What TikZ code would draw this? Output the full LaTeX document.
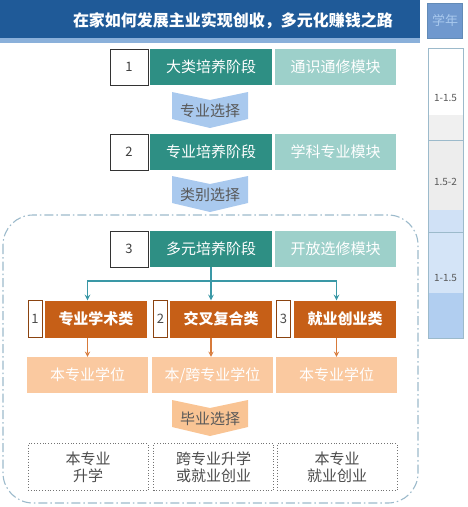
\documentclass[tikz,border=0pt]{standalone}
\usepackage{fontspec}
\setmainfont{Noto Sans CJK SC}
\definecolor{hdblue}{HTML}{1F5A98}
\definecolor{hdstrip}{HTML}{8AB0DA}
\definecolor{yrblue}{HTML}{6F98CE}
\definecolor{stageteal}{HTML}{2E8F84}
\definecolor{modteal}{HTML}{9DD0CA}
\definecolor{pickblue}{HTML}{A9C9EE}
\definecolor{linkteal}{HTML}{3A98A6}
\definecolor{trackorange}{HTML}{C65F17}
\definecolor{linkorange}{HTML}{D77A3A}
\definecolor{degorange}{HTML}{FAC9A0}
\definecolor{pickorange}{HTML}{F9C494}
\definecolor{framegray}{HTML}{9CBACB}
\newcommand{\pickarrow}[5]{% name, x, y, colour, label
  \fill[#4] (#2-38,#3-18) -- (#2,#3-10) -- (#2+38,#3-18) -- (#2+38,#3+9)
            -- (#2,#3+18) -- (#2-38,#3+9) -- cycle;
  \node[picktext] (#1) at (#2,#3+1) {#5};
}

\begin{document}
\begin{tikzpicture}[x=1pt,y=-1pt,
    numbox/.style={draw=black!80,fill=white,minimum width=38pt,minimum height=36pt,
                   inner sep=0pt,font=\fontsize{13}{15}\selectfont,text=black!75},
    stagebox/.style={fill=stageteal,minimum width=122pt,minimum height=36pt,
                   inner sep=0pt,font=\fontsize{15}{17}\selectfont,text=white},
    modbox/.style={fill=modteal,minimum width=121pt,minimum height=36pt,
                   inner sep=0pt,font=\fontsize{15}{17}\selectfont,text=white},
    picktext/.style={font=\fontsize{15}{17}\selectfont,text=black!65},
    tracknum/.style={draw=trackorange!70!black,fill=white,minimum width=14pt,minimum height=37pt,
                   inner sep=0pt,font=\fontsize{13}{15}\selectfont,text=black!70},
    trackbox/.style={fill=trackorange,minimum width=102pt,minimum height=37pt,
                   inner sep=0pt,font=\bfseries\fontsize{15}{17}\selectfont,text=white},
    degbox/.style={fill=degorange,minimum width=121pt,minimum height=36pt,
                   inner sep=0pt,font=\fontsize{15}{17}\selectfont,text=white},
    endbox/.style={draw=black!55,dotted,thick,fill=white,minimum width=120pt,minimum height=47pt,
                   inner sep=0pt,align=center,font=\fontsize{15}{17}\selectfont,text=black!70},
    yeartext/.style={font=\fontsize{10}{12}\selectfont,text=black!65},
    tealstream/.style={->,>=stealth,line width=1.5pt,draw=linkteal},
    orstream/.style={->,>=stealth,line width=1.3pt,draw=linkorange}]
    \useasboundingbox (0,0) rectangle (467,507);
    %header
    \fill [hdblue] (0,0) rectangle (420,38);
    \fill [hdstrip] (0,38) rectangle (420,43);
    \node [text=white,font=\bfseries\fontsize{16}{18}\selectfont] (title) at (233,21)
          {在家如何发展主业实现创收，多元化赚钱之路};
    \node [draw=hdblue!70,fill=yrblue,minimum width=35pt,minimum height=35pt,inner sep=0pt,
           text=pickblue,font=\fontsize{13}{15}\selectfont] (yearhead) at (445,20.5) {学年};
    %years
    \fill [white] (428,48) rectangle (463,115);
    \fill [black!6] (428,115) rectangle (463,140);
    \fill [black!7] (428,140) rectangle (463,210);
    \fill [pickblue!55] (428,210) rectangle (463,232);
    \fill [pickblue!50] (428,232) rectangle (463,293);
    \fill [pickblue!90] (428,293) rectangle (463,338);
    \draw [framegray] (428,140) -- (463,140);
    \draw [framegray] (428,232) -- (463,232);
    \draw [framegray,thick] (428,48) rectangle (463,338);
    \node [yeartext] (y1) at (445.5,98) {1-1.5};
    \node [yeartext] (y2) at (445.5,182) {1.5-2};
    \node [yeartext] (y3) at (445.5,278) {1-1.5};
    %stage 1
    \node [numbox] (n1) at (129,67) {1};
    \node [stagebox] (s1) at (211,67) {大类培养阶段};
    \node [modbox] (m1) at (335.5,67) {通识通修模块};
    \pickarrow{p1}{210}{110}{pickblue}{专业选择}
    %stage 2
    \node [numbox] (n2) at (129,152) {2};
    \node [stagebox] (s2) at (211,152) {专业培养阶段};
    \node [modbox] (m2) at (335.5,152) {学科专业模块};
    \pickarrow{p2}{210}{194}{pickblue}{类别选择}
    %stage 3 frame
    \draw [framegray,line width=1.1pt,dash pattern=on 9pt off 3pt on 1.5pt off 3pt,
           rounded corners=30pt] (3,215) rectangle (418,503);
    \node [numbox] (n3) at (129,249) {3};
    \node [stagebox] (s3) at (211,249) {多元培养阶段};
    \node [modbox] (m3) at (335.5,249) {开放选修模块};
    %degrees
    \node [degbox] (d1) at (87.5,375) {本专业学位};
    \node [degbox] (d2) at (212.5,375) {本/跨专业学位};
    \node [degbox] (d3) at (336.5,375) {本专业学位};
    %tracks
    \node [tracknum] (t1n) at (35,319) {1};
    \node [trackbox] (t1) at (96,319) {专业学术类};
    \node [tracknum] (t2n) at (160.5,319) {2};
    \node [trackbox] (t2) at (221,319) {交叉复合类};
    \node [tracknum] (t3n) at (283.5,319) {3};
    \node [trackbox] (t3) at (345,319) {就业创业类};
    \draw [tealstream] (s3.south) -- ++(0,14) -| (d1.north |- t1.north);
    \draw [tealstream] (s3.south) -- ++(0,14) -| (d3.north |- t3.north);
    \draw [tealstream] (s3.south) -- (s3.south |- t2.north);
    \draw [orstream] (d1.north |- t1.south) -- (d1.north);
    \draw [orstream] (s3.south |- t2.south) -- (s3.south |- d2.north);
    \draw [orstream] (d3.north |- t3.south) -- (d3.north);
    \pickarrow{p3}{210}{418}{pickorange}{毕业选择}
    %outcomes
    \node [endbox] (e1) at (88,467) {本专业\\升学};
    \node [endbox] (e2) at (213.5,467) {跨专业升学\\或就业创业};
    \node [endbox] (e3) at (337,467) {本专业\\就业创业};
\end{tikzpicture}
\end{document}
